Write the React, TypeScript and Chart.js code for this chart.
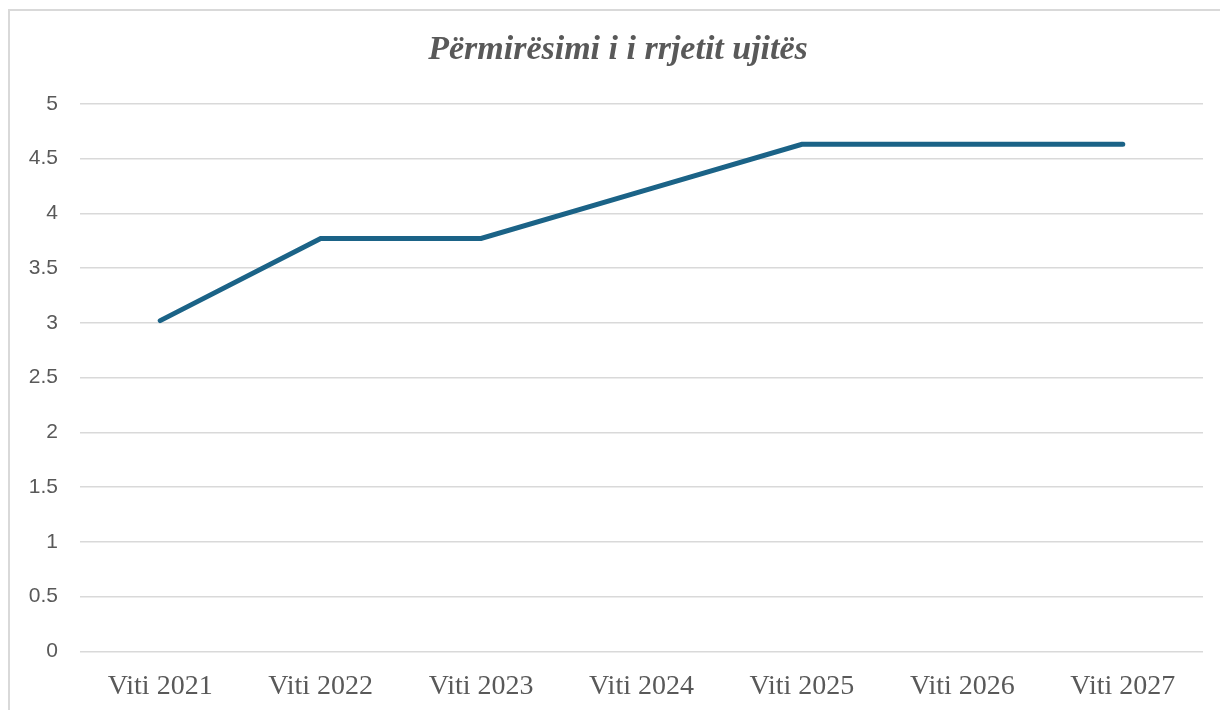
import React, { useEffect, useRef } from "react";
import { Chart, registerables } from "chart.js";

Chart.register(...registerables);

const categories = ["Viti 2021", "Viti 2022", "Viti 2023", "Viti 2024", "Viti 2025", "Viti 2026", "Viti 2027"];
const values = [3.02, 3.77, 3.77, 4.2, 4.63, 4.63, 4.63];
const titleText = "Përmirësimi i i rrjetit ujitës";

const fullWidthTitle = {
  id: "fullWidthTitle",
  afterLayout(chart: any) {
    const t = chart.titleBlock;
    if (t) {
      t.left = 0;
      t.right = chart.width;
      t.width = chart.width;
    }
  },
};

export default function App() {
  const ref = useRef<HTMLCanvasElement | null>(null);
  useEffect(() => {
    if (!ref.current) return;
    const chart = new Chart(ref.current, {
      type: "line",
      data: {
        labels: categories,
        datasets: [
          {
            data: values,
            borderColor: "#1b6387",
            borderWidth: 5,
            borderCapStyle: "round",
            borderJoinStyle: "miter",
            pointRadius: 0,
            tension: 0,
            fill: false,
          },
        ],
      },
      plugins: [fullWidthTitle],
      options: {
        animation: false,
        responsive: false,
        devicePixelRatio: 1,
        layout: { padding: { left: 0, right: 23, top: 0, bottom: 10 } },
        plugins: {
          legend: { display: false },
          tooltip: { enabled: false },
          title: {
            display: true,
            text: titleText,
            color: "#595959",
            font: { family: "'Liberation Serif', 'Times New Roman', serif", size: 34, weight: "bold", style: "italic", lineHeight: 1.2 },
            padding: { top: 19, bottom: 33 },
          },
        },
        scales: {
          x: {
            offset: true,
            grid: { display: false, drawTicks: false },
            border: { display: false },
            ticks: {
              color: "#595959",
              padding: 18,
              maxRotation: 0,
              font: { family: "'Liberation Serif', 'Times New Roman', serif", size: 28, lineHeight: 1.2 },
            },
          },
          y: {
            min: 0,
            max: 5,
            afterFit: (scale: any) => {
              scale.width = 70;
            },
            grid: { color: "#d9d9d9", lineWidth: 1.5, drawTicks: false },
            border: { display: false },
            ticks: {
              stepSize: 0.5,
              color: "#595959",
              padding: 22,
              callback: (v: any) => String(Math.round(Number(v) * 10) / 10),
              font: { family: "'Liberation Sans', Arial, sans-serif", size: 21 },
            },
          },
        },
      } as any,
    });
    return () => chart.destroy();
  }, []);

  return (
    <div style={{ position: "fixed", left: 0, top: 0, width: 1220, height: 710, overflow: "hidden", background: "#fff" }}>
      <div
        style={{
          position: "absolute",
          left: 8,
          top: 9,
          width: 1240,
          height: 740,
          borderLeft: "2px solid #d9d9d9",
          borderTop: "2px solid #d9d9d9",
          boxSizing: "border-box",
        }}
      />
      <canvas ref={ref} width={1216} height={720} style={{ position: "absolute", left: 10, top: 11, width: 1216, height: 720 }} />
    </div>
  );
}
